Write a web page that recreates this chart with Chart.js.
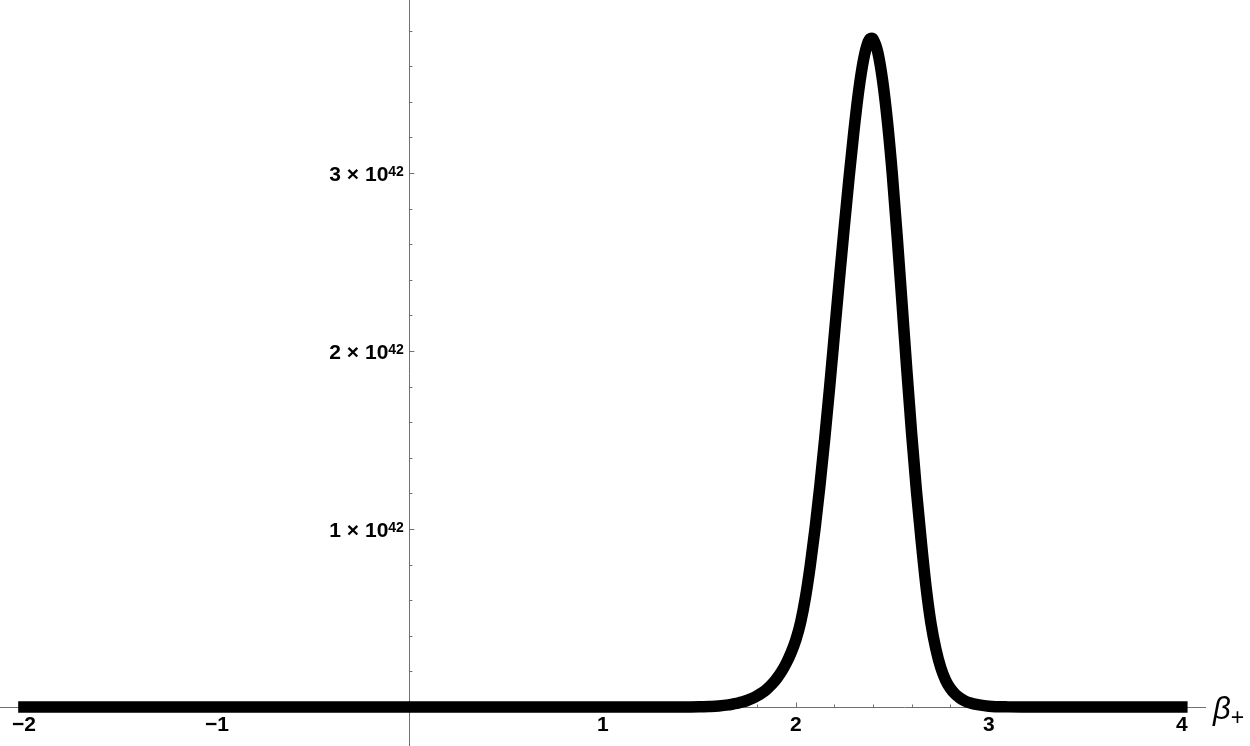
<!DOCTYPE html>
<html lang="en">
<head>
<meta charset="UTF-8">
<title>Distribution over beta+</title>
<script src="https://cdn.jsdelivr.net/npm/chart.js"></script>
<style>
  html, body { margin: 0; padding: 0; background: #fff; }
  .wrap { width: 1250px; height: 746px; }
</style>
</head>
<body>
<div class="wrap"><canvas id="plot"></canvas></div>
<script>
// values, y in units of 10^42
const betaValues = [-2, -1, 0, 1, 1.4, 1.5, 1.55, 1.6, 1.65, 1.675, 1.7, 1.725, 1.75, 1.775, 1.8,
  1.825, 1.85, 1.875, 1.9, 1.925, 1.95, 1.975, 2.0, 2.025, 2.05, 2.075, 2.1, 2.125, 2.15,
  2.175, 2.2, 2.225, 2.25, 2.275, 2.3, 2.325, 2.35, 2.375, 2.392, 2.4, 2.425, 2.45, 2.475,
  2.5, 2.525, 2.55, 2.575, 2.6, 2.625, 2.65, 2.675, 2.7, 2.725, 2.75, 2.775, 2.8, 2.825,
  2.85, 2.875, 2.9, 2.95, 3.0, 3.1, 3.2, 4];
const densityValues = [0, 0, 0, 0, 0, 0.001, 0.003, 0.006, 0.012, 0.017, 0.022, 0.029, 0.038, 0.049, 0.063,
  0.08, 0.101, 0.127, 0.159, 0.198, 0.246, 0.305, 0.378, 0.478, 0.618, 0.798, 1.008, 1.248, 1.513,
  1.798, 2.098, 2.398, 2.688, 2.968, 3.228, 3.458, 3.633, 3.738, 3.757, 3.752, 3.676, 3.515, 3.283,
  2.989, 2.642, 2.269, 1.891, 1.534, 1.211, 0.928, 0.671, 0.47, 0.328, 0.224, 0.153, 0.105, 0.073,
  0.051, 0.035, 0.024, 0.012, 0.0049, 0.0008, 0, 0];
const xTickValues = [-2, -1, 1, 2, 3, 4];
const yTickValues = [1, 2, 3];
const yExponent = '42';

const axisColor = '#707070';
const fontFamily = '"Liberation Sans", Arial, sans-serif';
const labelFont = { family: fontFamily, size: 21, weight: 'bold' };

// Mathematica-style ticks pointing into the plot, y labels with superscript, axis name
const axisDecor = {
  id: 'axisDecor',
  beforeDatasetsDraw(chart) {
    const { ctx, scales: { x, y } } = chart;
    const x0 = x.getPixelForValue(0);
    const y0 = y.getPixelForValue(0);
    ctx.save();
    ctx.strokeStyle = axisColor;
    ctx.lineWidth = 1;
    ctx.beginPath();
    for (let i = -10; i <= 20; i++) {
      const v = i * 0.2;
      if (i === 0) continue;
      const len = i % 5 === 0 ? 4.5 : 2.5;
      const px = Math.round(x.getPixelForValue(v)) + 0.5;
      ctx.moveTo(px, y0); ctx.lineTo(px, y0 - len);
    }
    for (let i = 1; i <= 19; i++) {
      const v = i * 0.2;
      if (v > y.max) continue;
      const len = i % 5 === 0 ? 4.5 : 2.5;
      const py = Math.round(y.getPixelForValue(v)) + 0.5;
      ctx.moveTo(x0, py); ctx.lineTo(x0 + len, py);
    }
    ctx.stroke();

    // y tick labels: "n × 10^42"
    const mainFont = 'bold 21px ' + fontFamily;
    const supFont = 'bold 14px ' + fontFamily;
    ctx.fillStyle = '#000';
    ctx.textBaseline = 'alphabetic';
    ctx.textAlign = 'left';
    yTickValues.forEach(v => {
      const py = y.getPixelForValue(v);
      const main = v + ' × 10';
      ctx.font = supFont;
      const supW = ctx.measureText(yExponent).width;
      ctx.font = mainFont;
      const mainW = ctx.measureText(main).width;
      const right = x0 - 6;
      const base = py + 7.5;
      ctx.fillText(main, right - supW - mainW, base);
      ctx.font = supFont;
      ctx.fillText(yExponent, right - supW, base - 4.5);
    });
    ctx.restore();
  },
  afterDraw(chart) {
    const { ctx, scales: { x, y } } = chart;
    const y0 = y.getPixelForValue(0);
    const left = x.right + 8;
    ctx.save();
    ctx.fillStyle = '#000';
    ctx.textBaseline = 'alphabetic';
    ctx.font = 'italic 31px ' + fontFamily;
    ctx.fillText('β', left, y0 + 12);
    const w = ctx.measureText('β').width;
    ctx.font = '23px ' + fontFamily;
    ctx.fillText('+', left + w, y0 + 18);
    ctx.restore();
  }
};

new Chart(document.getElementById('plot'), {
  type: 'line',
  data: {
    datasets: [{
      data: betaValues.map((b, i) => ({ x: b, y: densityValues[i] })),
      borderColor: '#000',
      borderWidth: 11.5,
      borderCapStyle: 'square',
      borderJoinStyle: 'round',
      pointRadius: 0,
      cubicInterpolationMode: 'monotone',
      fill: false,
      clip: false
    }]
  },
  options: {
    responsive: true,
    maintainAspectRatio: false,
    animation: false,
    devicePixelRatio: 1,
    layout: { padding: { left: 0, right: 45, top: 0, bottom: 0 } },
    plugins: { legend: { display: false }, tooltip: { enabled: false } },
    scales: {
      x: {
        type: 'linear',
        min: -2.124,
        max: 4.12,
        position: { y: 0 },
        grid: { display: false, drawTicks: false },
        border: { display: true, color: axisColor, width: 1 },
        ticks: {
          color: '#000',
          font: labelFont,
          padding: 6,
          maxRotation: 0,
          autoSkip: false,
          callback: v => (v < 0 ? '−' + Math.abs(v) : String(v))
        },
        afterBuildTicks: s => { s.ticks = xTickValues.map(v => ({ value: v })); },
        afterFit: s => { s.height = 0; s.paddingLeft = 0; s.paddingRight = 0; s.paddingTop = 0; s.paddingBottom = 0; }
      },
      y: {
        type: 'linear',
        min: -0.219,
        max: 3.972,
        position: { x: 0 },
        grid: { display: false, drawTicks: false },
        border: { display: true, color: axisColor, width: 1 },
        ticks: { display: false },
        afterBuildTicks: s => { s.ticks = yTickValues.map(v => ({ value: v })); },
        afterFit: s => { s.width = 0; s.paddingLeft = 0; s.paddingRight = 0; s.paddingTop = 0; s.paddingBottom = 0; }
      }
    }
  },
  plugins: [axisDecor]
});
</script>
</body>
</html>
